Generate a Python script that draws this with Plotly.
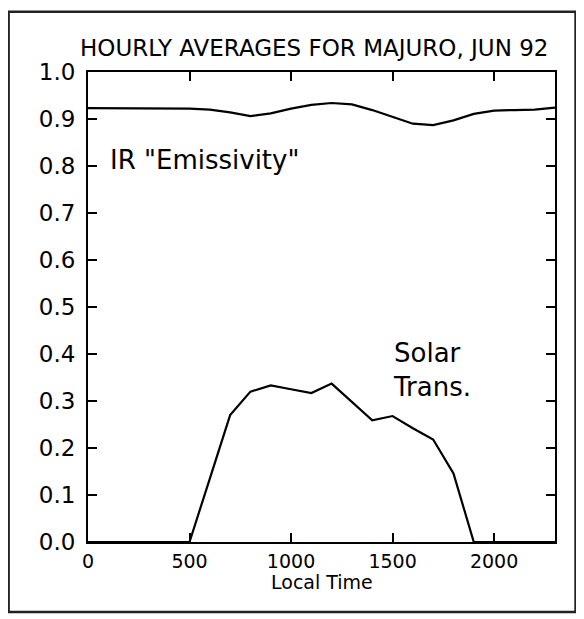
import plotly.graph_objects as go

# hourly local time (hhmm)
hora = [0, 100, 200, 300, 400, 500, 600, 700, 800, 900, 1000, 1100,
        1200, 1300, 1400, 1500, 1600, 1700, 1800, 1900, 2000, 2100, 2200, 2300]

# IR "emissivity"
emisividad = [0.923, 0.923, 0.923, 0.923, 0.922, 0.922, 0.920, 0.914, 0.906, 0.912,
              0.922, 0.930, 0.934, 0.931, 0.919, 0.904, 0.890, 0.887, 0.897, 0.911,
              0.918, 0.919, 0.920, 0.924]

# solar transmission
solar = [0, 0, 0, 0, 0, 0, 0.135, 0.270, 0.320, 0.333, 0.325, 0.317,
         0.337, 0.298, 0.259, 0.268, 0.242, 0.218, 0.146, 0, 0, 0, 0, 0]

fuente = "DejaVu Sans"

fig = go.Figure()
fig.add_trace(go.Scatter(x=hora, y=emisividad, mode="lines",
                         line=dict(color="black", width=2.2), showlegend=False))
fig.add_trace(go.Scatter(x=hora, y=solar, mode="lines",
                         line=dict(color="black", width=2.2), showlegend=False))

fig.update_xaxes(range=[0, 2300], tickvals=[0, 500, 1000, 1500, 2000],
                 ticks="inside", ticklen=9, tickwidth=2, tickcolor="black",
                 showline=True, linecolor="black", linewidth=2, mirror="ticks",
                 showgrid=False, zeroline=False, ticklabelstandoff=1, automargin=False,
                 tickfont=dict(family=fuente, size=19, color="black"))
fig.update_yaxes(range=[0, 1.0], dtick=0.1, tickformat=".1f",
                 ticks="inside", ticklen=9, tickwidth=2, tickcolor="black",
                 showline=True, linecolor="black", linewidth=2, mirror="ticks",
                 showgrid=False, zeroline=False, ticklabelstandoff=6, automargin=False,
                 tickfont=dict(family=fuente, size=23, color="black"))

fig.add_annotation(text="HOURLY AVERAGES FOR MAJURO, JUN 92", xref="paper", yref="paper",
                   x=0.484, y=1.051, xanchor="center", yanchor="middle", showarrow=False,
                   font=dict(family=fuente, size=23, color="black"))
fig.add_annotation(text="Local Time", xref="paper", yref="paper",
                   x=0.501, y=-0.086, xanchor="center", yanchor="middle", showarrow=False,
                   font=dict(family=fuente, size=19, color="black"))
fig.add_annotation(text='IR "Emissivity"', x=98, y=0.813, xanchor="left", yanchor="middle",
                   showarrow=False, font=dict(family=fuente, size=26, color="black"))
fig.add_annotation(text="Solar<br>Trans.", x=1490, y=0.366, xanchor="left", yanchor="middle",
                   showarrow=False, align="left",
                   font=dict(family=fuente, size=26, color="black"))

# marco exterior
fig.add_shape(type="rect", xref="paper", yref="paper", x0=-0.17, x1=1.044, y0=-0.149, y1=1.128,
              line=dict(color="#222", width=2.5))

# la pagina deja 8px de margen, se compensa aqui
fig.update_layout(width=576, height=611, paper_bgcolor="white", plot_bgcolor="white",
                  margin=dict(l=80, r=29, t=64, b=77, pad=0))
fig.write_html("out.html")
